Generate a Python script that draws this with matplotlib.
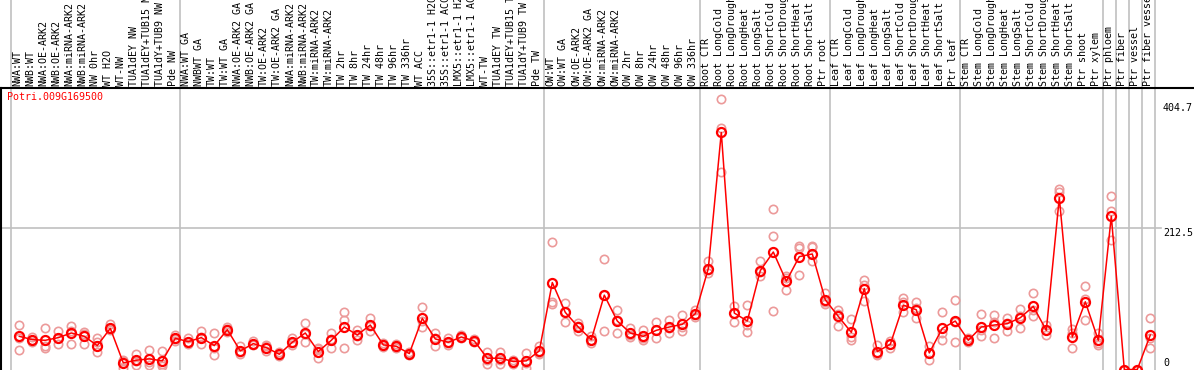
import matplotlib
matplotlib.use("Agg")
import matplotlib.pyplot as plt

gene = "Potri.009G169500"

samples = [
    "NWA:WT", "NWB:WT", "NWA:OE-ARK2", "NWB:OE-ARK2", "NWA:miRNA-ARK2",
    "NWB:miRNA-ARK2", "NW 0hr", "WT H2O", "WT-NW", "TUA1dEY NW",
    "TUA1dEY+TUB15 NW", "TUA1dY+TUB9 NW", "Pde NW",
    "NWA:WT GA", "NWBWT GA", "TW:WT", "TW:WT GA", "NWA:OE-ARK2 GA",
    "NWB:OE-ARK2 GA", "TW:OE-ARK2", "TW:OE-ARK2 GA", "NWA:miRNA-ARK2",
    "NWB:miRNA-ARK2", "TW:miRNA-ARK2", "TW:miRNA-ARK2", "TW 2hr", "TW 8hr",
    "TW 24hr", "TW 48hr", "TW 96hr", "TW 336hr", "WT ACC",
    "35S::etr1-1 H2O", "35S::etr1-1 ACC", "LMX5::etr1-1 H2O",
    "LMX5::etr1-1 ACC", "WT-TW", "TUA1dEY TW", "TUA1dEY+TUB15 TW",
    "TUA1dY+TUB9 TW", "Pde TW",
    "OW:WT", "OW:WT GA", "OW:OE-ARK2", "OW:OE-ARK2 GA", "OW:miRNA-ARK2",
    "OW:miRNA-ARK2", "OW 2hr", "OW 8hr", "OW 24hr", "OW 48hr", "OW 96hr",
    "OW 336hr",
    "Root CTR", "Root LongCold", "Root LongDrought", "Root LongHeat",
    "Root LongSalt", "Root ShortCold", "Root ShortDrought", "Root ShortHeat",
    "Root ShortSalt", "Ptr root",
    "Leaf CTR", "Leaf LongCold", "Leaf LongDrought", "Leaf LongHeat",
    "Leaf LongSalt", "Leaf ShortCold", "Leaf ShortDrought", "Leaf ShortHeat",
    "Leaf ShortSalt", "Ptr leaf",
    "Stem CTR", "Stem LongCold", "Stem LongDrought", "Stem LongHeat",
    "Stem LongSalt", "Stem ShortCold", "Stem ShortDrought", "Stem ShortHeat",
    "Stem ShortSalt", "Ptr shoot", "Ptr xylem",
    "Ptr phloem", "Ptr fiber", "Ptr vessel", "Ptr fiber vessel",
]

# mean expression per sample
means = [
    50, 45, 44, 48, 55, 50, 36, 62, 10, 14, 16, 13, 47,
    42, 48, 36, 60, 28, 39, 33, 23, 41, 55, 27, 44, 64, 52, 67, 37, 35, 24,
    77, 46, 41, 49, 43, 17, 17, 12, 13, 28,
    131, 86, 64, 45, 112, 73, 55, 50, 59, 64, 68, 84,
    152, 357, 85, 73, 149, 177, 133, 170, 174, 105,
    80, 56, 122, 27, 38, 97, 90, 25, 62, 73,
    44, 64, 67, 69, 78, 95, 59, 259, 49, 102, 44,
    231, 0, 0, 52,
]

# replicate values per sample (three each)
rep1 = [
    67, 49, 62, 58, 66, 57, 47, 68, 2, 23, 30, 28, 52,
    48, 58, 55, 64, 36, 43, 37, 27, 47, 70, 32, 55, 86, 59, 78, 40, 38, 27,
    94, 55, 48, 52, 46, 27, 27, 14, 25, 35,
    192, 100, 70, 51, 166, 90, 62, 59, 72, 75, 82, 90,
    163, 408, 96, 97, 163, 241, 141, 186, 186, 115,
    90, 76, 135, 37, 43, 108, 102, 36, 86, 105,
    47, 83, 82, 78, 91, 115, 67, 272, 61, 126, 55,
    261, 0, 0, 77,
]
rep2 = [
    29, 41, 36, 39, 38, 39, 27, 59, 15, 7, 7, 5, 43,
    38, 38, 22, 57, 23, 37, 28, 20, 37, 41, 17, 33, 75, 44, 58, 34, 32, 22,
    64, 35, 37, 47, 41, 9, 9, 9, 3, 23,
    102, 72, 58, 40, 58, 55, 49, 44, 47, 55, 58, 79,
    145, 363, 72, 56, 141, 201, 120, 142, 163, 98,
    66, 44, 103, 23, 33, 86, 77, 15, 45, 42,
    42, 50, 48, 58, 62, 80, 52, 268, 33, 75, 37,
    239, 0, 0, 32,
]
rep3 = [
    47, 44, 32, 47, 58, 53, 41, 61, 13, 13, 11, 8, 46,
    41, 49, 32, 61, 26, 38, 35, 22, 40, 53, 31, 46, 32, 50, 65, 37, 34, 25,
    73, 48, 40, 49, 43, 14, 15, 11, 10, 25,
    99, 86, 65, 44, 112, 74, 52, 47, 59, 62, 64, 82,
    150, 297, 85, 67, 147, 88, 138, 183, 184, 102,
    83, 49, 128, 22, 38, 102, 92, 25, 55, 72,
    44, 59, 71, 70, 81, 89, 59, 239, 55, 106, 40,
    195, 0, 0, 47,
]

# sample index where each tissue group starts
group_starts = [0, 13, 41, 53, 63, 73, 84, 85, 86, 87, 88]
ref_values = [404.7, 212.5, 0]

W, H = 1194, 370
fig = plt.figure(figsize=(W / 100, H / 100), dpi=100)
ax = fig.add_axes([1 / W, 0, 1.0, (H - 88) / H])

x0 = (1 - 19.3) / 13
ax.set_xlim(x0, x0 + W / 13)
ax.set_ylim(-0.75, 424)
ax.axis("off")

mono = "DejaVu Sans Mono"
grey = "#c0c0c0"
idx = list(range(len(samples)))

# group separators, running up through the label strip
for g in group_starts:
    ax.axvline(g - 0.64, ymin=0, ymax=H / (H - 88), color=grey, lw=1.2,
               clip_on=False, zorder=0)
ax.axhline(212.5, xmax=1160 / W, color=grey, lw=1.2, zorder=0)

# frame: left and top edge
ax.plot([0, 0], [0, 1], transform=ax.transAxes, color="black", lw=1.5,
        clip_on=False)
ax.plot([0, 1], [1, 1], transform=ax.transAxes, color="black", lw=1.5,
        clip_on=False)

for reps in (rep1, rep2, rep3):
    ax.plot(idx, reps, ls="none", marker="o", ms=6, mfc="none",
            mec="#ec9a9a", mew=1.2, clip_on=False, zorder=2)
ax.plot(idx, means, color="red", lw=1.1, marker="o", ms=6.5, mfc="none",
        mec="red", mew=1.6, clip_on=False, zorder=3)

# sample labels (vertical)
for i, s in enumerate(samples):
    px = 17 + 13 * i
    fig.text(px / W, (H - 86) / H, s, rotation=90, ha="center", va="bottom",
             family=mono, fontsize=7.2, color="black")

fig.text(7 / W, (H - 97) / H, gene, ha="left", va="center", family=mono,
         fontsize=7.2, color="red")

for v, top in zip(ref_values, [103, 228, 358]):
    fig.text(1163 / W, (H - top) / H, f"{v:g}", ha="left", va="top",
             family=mono, fontsize=7.2, color="black")

fig.savefig("out.png", dpi=100)
